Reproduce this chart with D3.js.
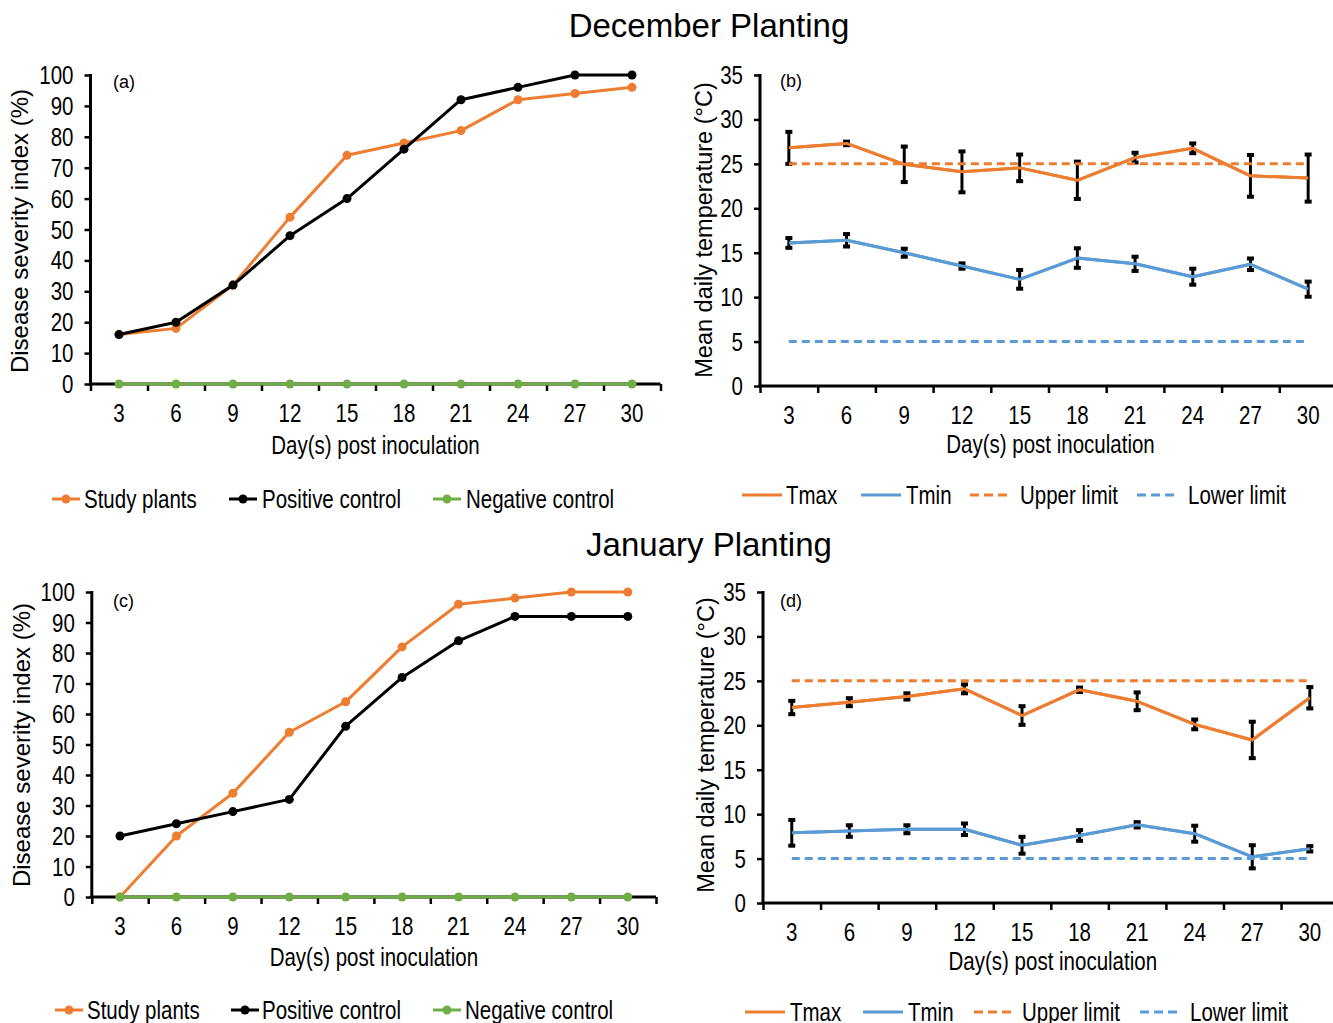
<!DOCTYPE html>
<html><head><meta charset="utf-8">
<script src="https://cdn.jsdelivr.net/npm/d3@7"></script>
<style>body{margin:0;background:#fff}svg{display:block}</style>
</head><body>
<svg id="chart" width="1333" height="1023"></svg>
<script>
// ---------------- DATA ----------------
const days = [3, 6, 9, 12, 15, 18, 21, 24, 27, 30];
const decStudy    = [16, 18, 32, 54, 74, 78, 82, 92, 94, 96];
const decPositive = [16, 20, 32, 48, 60, 76, 92, 96, 100, 100];
const decNegative = [0, 0, 0, 0, 0, 0, 0, 0, 0, 0];
const janStudy    = [0, 20, 34, 54, 64, 82, 96, 98, 100, 100];
const janPositive = [20, 24, 28, 32, 56, 72, 84, 92, 92, 92];
const janNegative = [0, 0, 0, 0, 0, 0, 0, 0, 0, 0];
const decTmax    = [26.8, 27.3, 24.95, 24.1, 24.55, 23.15, 25.7, 26.75, 23.65, 23.4];
const decTmaxErr = [1.8, 0.2, 2.0, 2.3, 1.5, 2.1, 0.55, 0.55, 2.35, 2.65];
const decTmin    = [16.1, 16.4, 15.0, 13.5, 12.0, 14.4, 13.75, 12.3, 13.7, 10.9];
const decTminErr = [0.55, 0.7, 0.45, 0.3, 1.05, 1.1, 0.8, 0.9, 0.65, 0.85];
const janTmax    = [22.0, 22.6, 23.25, 24.1, 21.1, 24.0, 22.7, 20.1, 18.35, 23.1];
const janTmaxErr = [0.75, 0.45, 0.35, 0.5, 1.05, 0.25, 1.0, 0.55, 2.05, 1.2];
const janTmin    = [7.9, 8.1, 8.3, 8.3, 6.5, 7.6, 8.8, 7.8, 5.2, 6.1];
const janTminErr = [1.45, 0.65, 0.45, 0.65, 0.95, 0.6, 0.3, 0.9, 1.3, 0.3];
const upperLimit = [25, 25, 25, 25, 25, 25, 25, 25, 25, 25];
const lowerLimit = [5, 5, 5, 5, 5, 5, 5, 5, 5, 5];
const severityTicks = [0, 10, 20, 30, 40, 50, 60, 70, 80, 90, 100];
const tempTicks = [0, 5, 10, 15, 20, 25, 30, 35];
const titles = ["December Planting", "January Planting"];
const severityLegend = ["Study plants", "Positive control", "Negative control"];
const tempLegend = ["Tmax", "Tmin", "Upper limit", "Lower limit"];

// ---------------- STYLE ----------------
const ORANGE = "#ED7D31", BLACK = "#000000", GREEN = "#70AD47", BLUE = "#5B9BD5";
const svg = d3.select("#chart");

function hasFont(name) {
  const c = document.createElement("canvas").getContext("2d");
  const s = "abcdefghijWWMM0123456789";
  c.font = "40px monospace"; const w1 = c.measureText(s).width;
  c.font = "40px '" + name + "', monospace"; const w2 = c.measureText(s).width;
  return Math.abs(w1 - w2) > 0.5;
}
const narrowName = hasFont("Liberation Sans Narrow") ? "Liberation Sans Narrow" : (hasFont("Arial Narrow") ? "Arial Narrow" : null);
const REG = "'Liberation Sans', Arial, sans-serif";

function ntext(g, x, y, str, size, anchor) {
  const t = g.append("text").text(str).attr("font-size", size).attr("fill", "#000")
    .attr("text-anchor", anchor || "start");
  if (narrowName) {
    t.attr("font-family", "'" + narrowName + "'").attr("x", x).attr("y", y);
  } else {
    t.attr("font-family", REG).attr("transform", `translate(${x},${y}) scale(0.82,1)`);
  }
  return t;
}

svg.append("text").attr("x", 709).attr("y", 37).attr("text-anchor", "middle")
  .attr("font-family", REG).attr("font-size", 33).text(titles[0]);
svg.append("text").attr("x", 709).attr("y", 556).attr("text-anchor", "middle")
  .attr("font-family", REG).attr("font-size", 33).text(titles[1]);

function panelFrame(cfg) {
  const g = svg.append("g");
  const x = d3.scaleLinear().domain([0, days.length]).range([cfg.x0, cfg.x1]);
  const y = d3.scaleLinear().domain([0, cfg.ymax]).range([cfg.y0, cfg.yTop]);
  const cx = i => x(i + 0.5);
  const xa = d3.axisBottom(x).tickValues(d3.range(0, days.length + 1)).tickFormat("").tickSizeOuter(0).tickSizeInner(7);
  const gx = g.append("g").attr("transform", `translate(0,${cfg.y0})`).call(xa);
  gx.selectAll("line").attr("stroke", "#000").attr("stroke-width", 2.5);
  gx.select(".domain").remove();
  const ya = d3.axisLeft(y).tickValues(cfg.ticks).tickFormat("").tickSizeOuter(0).tickSizeInner(6);
  const gy = g.append("g").attr("transform", `translate(${cfg.x0},0)`).call(ya);
  gy.selectAll("line").attr("stroke", "#000").attr("stroke-width", 2.5);
  gy.select(".domain").remove();
  g.append("line").attr("x1", cfg.x0).attr("x2", cfg.x0).attr("y1", y(cfg.ymax) - 1).attr("y2", cfg.y0 + 1.5)
    .attr("stroke", "#000").attr("stroke-width", 3);
  g.append("line").attr("x1", cfg.x0 - 1.5).attr("x2", cfg.x1).attr("y1", cfg.y0).attr("y2", cfg.y0)
    .attr("stroke", "#000").attr("stroke-width", 3);
  cfg.ticks.forEach(v => ntext(g, cfg.x0 - 17, y(v) + 9, String(v), 25, "end"));
  days.forEach((d, i) => ntext(g, cx(i), cfg.y0 + 38, String(d), 25, "middle"));
  ntext(g, (cfg.x0 + cfg.x1) / 2 + cfg.xlabDx, cfg.xlabY, "Day(s) post inoculation", 25, "middle");
  g.append("text").attr("transform", `translate(${cfg.ytitleX},${cfg.ytitleY}) rotate(-90)`)
    .attr("text-anchor", "middle").attr("font-family", REG).attr("font-size", cfg.ytitleSize).text(cfg.ytitle);
  g.append("text").attr("x", cfg.labX).attr("y", cfg.labY).attr("font-family", REG).attr("font-size", 18).text(cfg.lab);
  return {g, x, y, cx};
}

function drawLine(p, vals, color, dashed, width) {
  const line = d3.line().x((d, i) => p.cx(i)).y(d => p.y(d));
  p.g.append("path").datum(vals).attr("d", line).attr("fill", "none").attr("stroke", color)
    .attr("stroke-width", width || 3).attr("stroke-dasharray", dashed ? "8,5" : null).attr("stroke-linejoin", "round");
}
function drawMarkers(p, vals, color) {
  p.g.selectAll(null).data(vals).enter().append("circle")
    .attr("cx", (d, i) => p.cx(i)).attr("cy", d => p.y(d)).attr("r", 4.5).attr("fill", color);
}
function drawErr(p, vals, errs) {
  vals.forEach((v, i) => {
    const xx = p.cx(i), yt = p.y(v + errs[i]), yb = p.y(v - errs[i]);
    p.g.append("line").attr("x1", xx).attr("x2", xx).attr("y1", yt).attr("y2", yb).attr("stroke", "#000").attr("stroke-width", 3);
    [yt, yb].forEach(yy => p.g.append("rect").attr("x", xx - 3.5).attr("y", yy - 2).attr("width", 7).attr("height", 4).attr("fill", "#000"));
  });
}

function severityPanel(cfg, study, pos, neg, legY, legPos) {
  const p = panelFrame(Object.assign({ymax: 100, ticks: severityTicks, ytitle: "Disease severity index (%)", ytitleSize: 24}, cfg));
  drawLine(p, study, ORANGE); drawMarkers(p, study, ORANGE);
  drawLine(p, pos, BLACK); drawMarkers(p, pos, BLACK);
  drawLine(p, neg, GREEN); drawMarkers(p, neg, GREEN);
  const cols = [ORANGE, BLACK, GREEN];
  severityLegend.forEach((name, k) => {
    const [lx, tx] = legPos[k];
    svg.append("line").attr("x1", lx).attr("x2", lx + 28).attr("y1", legY).attr("y2", legY).attr("stroke", cols[k]).attr("stroke-width", 3);
    svg.append("circle").attr("cx", lx + 14).attr("cy", legY).attr("r", 4.5).attr("fill", cols[k]);
    ntext(svg, tx, legY + 9, name, 25, "start");
  });
}

function tempPanel(cfg, tmax, tmaxE, tmin, tminE, legY, legPos) {
  const p = panelFrame(Object.assign({ymax: 35, ticks: tempTicks, ytitle: "Mean daily temperature (°C)", ytitleSize: 23.5}, cfg));
  drawLine(p, tmax, ORANGE); drawErr(p, tmax, tmaxE); drawLine(p, tmax, ORANGE);
  drawLine(p, tmin, BLUE); drawErr(p, tmin, tminE); drawLine(p, tmin, BLUE);
  drawLine(p, upperLimit, ORANGE, true);
  drawLine(p, lowerLimit, BLUE, true);
  const cols = [ORANGE, BLUE, ORANGE, BLUE];
  tempLegend.forEach((name, k) => {
    const [lx, tx] = legPos[k];
    svg.append("line").attr("x1", lx).attr("x2", lx + 40).attr("y1", legY).attr("y2", legY).attr("stroke", cols[k])
      .attr("stroke-width", 3).attr("stroke-dasharray", k >= 2 ? "9,5" : null);
    ntext(svg, tx, legY + 9, name, 25, "start");
  });
}

severityPanel({x0: 90.5, x1: 660.5, y0: 384, yTop: 75, xlabY: 454, xlabDx: 0, ytitleX: 28, ytitleY: 231, labX: 113, labY: 88, lab: "(a)"},
  decStudy, decPositive, decNegative, 499, [[52, 84], [229, 262], [433, 466]]);
tempPanel({x0: 760, x1: 1337, y0: 386, yTop: 75, xlabY: 453, xlabDx: 2, ytitleX: 712, ytitleY: 230, labX: 780, labY: 87, lab: "(b)"},
  decTmax, decTmaxErr, decTmin, decTminErr, 495, [[742, 786], [861, 906], [970, 1020], [1137, 1188]]);
severityPanel({x0: 91.8, x1: 656, y0: 897, yTop: 592, xlabY: 966, xlabDx: 0, ytitleX: 30, ytitleY: 745, labX: 113, labY: 607, lab: "(c)"},
  janStudy, janPositive, janNegative, 1010, [[55, 87], [231, 262], [433, 465]]);
tempPanel({x0: 763, x1: 1338.6, y0: 903, yTop: 592, xlabY: 970, xlabDx: 2, ytitleX: 714, ytitleY: 745, labX: 780, labY: 607, lab: "(d)"},
  janTmax, janTmaxErr, janTmin, janTminErr, 1012, [[745, 790], [863, 908], [974, 1022], [1140, 1190]]);
</script>
</body></html>
